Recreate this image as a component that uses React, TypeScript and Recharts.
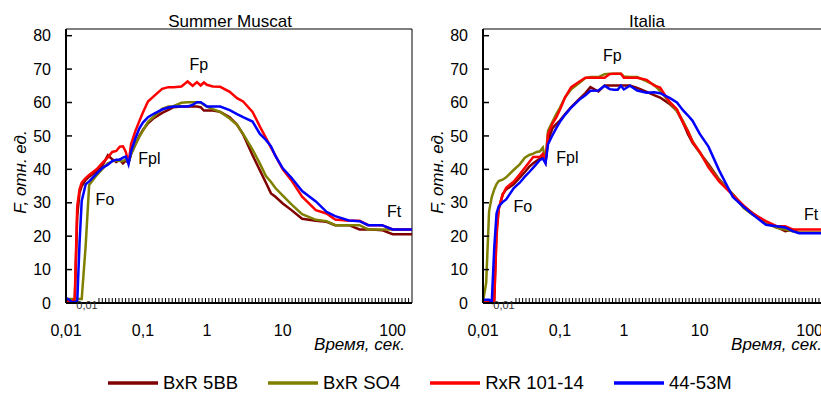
import React from 'react';
import { LineChart, Line, XAxis, YAxis, ReferenceLine, ReferenceDot, Legend } from 'recharts';

// Sample times (sec, as labelled on the axis)
const TIMES = [0.01, 0.011, 0.012, 0.013, 0.014, 0.015, 0.016, 0.018, 0.02, 0.025, 0.03, 0.035, 0.04, 0.045, 0.05, 0.055, 0.06, 0.065, 0.07, 0.08, 0.09, 0.1, 0.12, 0.15, 0.2, 0.25, 0.3, 0.4, 0.5, 0.6, 0.7, 0.8, 0.9, 1, 1.2, 1.5, 2, 2.5, 3, 4, 5, 6, 7, 8, 10, 12, 15, 20, 25, 30, 40, 50, 60, 70, 80, 100, 120, 150];

// Summer Muscat
const MUSCAT_5BB = [0.5, 0.5, 0.5, 0.6, 26, 33, 35, 36.8, 37.8, 39.5, 41.3, 44.2, 43, 42.2, 42.9, 41.8, 42.7, 42, 44.5, 47.5, 50, 51.8, 53.8, 55.4, 56.9, 57.8, 58.6, 58.8, 58.8, 58.8, 58.8, 58.6, 57.6, 57.6, 57.6, 57.2, 55.6, 53.3, 50.5, 44.2, 39.7, 36, 32.8, 31.8, 29.8, 27.8, 25.2, 24.6, 24.3, 23.3, 23.3, 22, 22, 21.9, 21.8, 20.6, 20.6, 20.6];
const MUSCAT_SO4 = [1.2, 1.2, 1.2, 1.2, 1.2, 1.2, 1.2, 17, 35.3, 38.2, 40.2, 41.8, 42.4, 42.7, 42.5, 42.5, 43, 42, 44.5, 47.5, 49.8, 51.6, 54.2, 55.9, 58.1, 58.8, 58.9, 59.9, 60.1, 60.1, 60.1, 60, 59.3, 58.8, 58, 57.2, 55.2, 53.3, 50.6, 45.9, 41.7, 38, 36.2, 34.4, 32.1, 29.5, 26.6, 24.9, 24.5, 23.3, 23.3, 23.3, 22, 22, 22, 22, 22, 22];
const MUSCAT_101 = [0.4, 0.4, 0.4, 1.5, 29, 34, 36, 37.4, 38.3, 40, 42, 43.6, 45.2, 45.5, 46.8, 46.9, 45.2, 41.7, 47.5, 51.5, 54.5, 57, 60.3, 62, 64.1, 64.6, 64.6, 64.8, 66.3, 65, 66.1, 65.1, 66, 65.3, 64.8, 64.7, 63.2, 61.3, 60.3, 57.2, 52.8, 49.4, 46.5, 44.1, 40, 36.7, 31.8, 27.8, 26.8, 25, 24.6, 24.6, 23.3, 23.3, 23.3, 22, 22, 22];
const MUSCAT_4453 = [1.5, 1, 0.2, 0.3, 0.4, 18, 30.5, 35.5, 36.4, 38.7, 40.5, 41.4, 42.5, 42.9, 42.9, 43.5, 43.8, 41.5, 45.3, 49.3, 52.3, 54, 55.6, 56.7, 57.9, 58.5, 58.8, 58.8, 58.8, 59.3, 60.1, 60.1, 59.5, 58.8, 58.8, 58.8, 57.7, 56.5, 55.6, 54.3, 50.6, 48.8, 46.9, 44, 40.3, 37.5, 33.5, 30.4, 27.3, 26, 24.7, 24.5, 23.3, 23.3, 23.3, 22, 22, 22];

// Italia
const ITALIA_5BB = [0.5, 0.5, 0.5, 0.5, 1, 22, 28, 32.5, 34, 35.5, 37.5, 39.2, 40.8, 41.8, 42.6, 43.2, 43.6, 42, 48.5, 52.3, 53.6, 54.6, 56.5, 58.6, 61, 62.8, 64.6, 63.3, 65.1, 65.1, 65.1, 65.1, 65.1, 65.1, 65.1, 64.4, 63.2, 62.2, 61.5, 59.6, 57.5, 54.1, 50.5, 48, 45, 41.5, 37, 32.5, 29, 27, 24, 22.8, 21.5, 22, 21, 21, 21, 21];
const ITALIA_SO4 = [0.5, 6, 27.5, 31.7, 34, 35.6, 36.5, 36.9, 37.6, 39.8, 41.5, 43.5, 44.3, 44.7, 45.2, 45.4, 46.5, 42.6, 51.5, 54.2, 56.6, 58.4, 61.5, 64, 65.8, 67.3, 67.6, 67.6, 68.5, 68.6, 68.6, 68.6, 68.6, 67.8, 67.6, 67.6, 66.3, 65.3, 63.5, 60, 57.5, 54.5, 51.5, 48.5, 45, 41, 36.8, 32.5, 28.5, 26.5, 24, 22.5, 22, 21.5, 21, 21, 21, 21];
const ITALIA_101 = [0.4, 0.4, 0.4, 0.4, 0.5, 20, 28.3, 32.3, 34.5, 36.3, 38.5, 40.5, 42.2, 43.7, 43.7, 43.7, 44.6, 42.2, 50.5, 53.7, 55.6, 57.8, 61.5, 64.6, 66.2, 67.4, 67.4, 67.4, 67.4, 68.5, 68.6, 68.6, 68.6, 67.4, 67.4, 67.4, 66.8, 65.1, 64.5, 60.2, 58, 54, 51.3, 48.3, 45.2, 40.6, 36.4, 32.3, 29.2, 26.8, 24.5, 23, 23, 22, 22, 22, 22, 22];
const ITALIA_4453 = [1, 1, 1, 0.3, 16.5, 26.8, 28.9, 30.2, 31, 34.3, 36, 37.8, 39.2, 40.5, 41.7, 42.8, 43.2, 41.8, 47.5, 50.2, 52.4, 54.2, 56.3, 58.5, 60.8, 62.2, 63.5, 63.6, 65, 64, 63.8, 63.8, 65, 63.9, 65, 63.6, 62.9, 63.1, 62.8, 61.4, 60, 57.7, 56.1, 54.6, 50.6, 46.8, 39.7, 31.7, 28.8, 26.6, 23.4, 23, 22.6, 21.5, 20.9, 20.9, 20.9, 20.9];

const SERIES = [
  { key: 'bb5', name: 'BxR 5BB', color: '#800000' },
  { key: 'so4', name: 'BxR SO4', color: '#808000' },
  { key: 'r101', name: 'RxR 101-14', color: '#FF0000' },
  { key: 'm4453', name: '44-53M', color: '#0000FF' },
];

// Axis labels (the original uses a category axis, so decades are unevenly spaced)
const DECADE_VALUES = [0.01, 0.1, 1, 10, 100];
const DECADE_TEXT = ['0,01', '0,1', '1', '10', '100'];
const Y_TICKS = [0, 10, 20, 30, 40, 50, 60, 70, 80];

const MUSCAT_MARKS = [
  { text: 'Fo', t: 0.0321, v: 31.2 },
  { text: 'Fpl', t: 0.126, v: 43.3 },
  { text: 'Fp', t: 0.75, v: 71.6 },
  { text: 'Ft', t: 103, v: 27.6 },
];
const ITALIA_MARKS = [
  { text: 'Fo', t: 0.033, v: 29.1 },
  { text: 'Fpl', t: 0.131, v: 43.6 },
  { text: 'Fp', t: 0.66, v: 74.3 },
  { text: 'Ft', t: 103, v: 26.7 },
];

// layout constants
const DECADE_WIDTH = [77, 64, 76, 110];
const T_END = 150;
const Y_MAX = 82;
const MINOR_START = 33;
const MINOR_STEP = 3.333;
const FONT = '"Liberation Sans", Arial, Helvetica, sans-serif';

function pos(t: number): number {
  let lg = Math.log10(t / DECADE_VALUES[0]);
  let u = 0;
  for (let i = 0; i < DECADE_WIDTH.length; i++) {
    if (lg <= 1 || i === DECADE_WIDTH.length - 1) return u + DECADE_WIDTH[i] * lg;
    u += DECADE_WIDTH[i];
    lg -= 1;
  }
  return u;
}

const U_MAX = pos(T_END);
const LABEL_U = DECADE_VALUES.map(pos);
const MINOR_U: number[] = [];
for (let u = MINOR_START; u <= U_MAX - 0.5; u += MINOR_STEP) MINOR_U.push(u);
const X_TICKS = [...LABEL_U, ...MINOR_U];

function buildRows(a: number[], b: number[], c: number[], d: number[]) {
  return TIMES.map((t, i) => ({ u: pos(t), bb5: a[i], so4: b[i], r101: c[i], m4453: d[i] }));
}

const renderXTick = (p: any) => {
  const { x, y, payload } = p;
  const idx = LABEL_U.findIndex((v) => Math.abs(v - payload.value) < 1e-6);
  if (idx >= 0) {
    return (
      <g>
        <text x={x} y={y + 33} textAnchor="middle" fontSize={16} fill="#000" fontFamily={FONT}>
          {DECADE_TEXT[idx]}
        </text>
        {idx === 0 && (
          <text x={x + 21} y={y + 6} textAnchor="middle" fontSize={11} fill="#333" fontFamily={FONT}>
            {DECADE_TEXT[0]}
          </text>
        )}
      </g>
    );
  }
  return <line x1={x} x2={x} y1={y} y2={y - 5} stroke="#000" strokeWidth={1} />;
};

const renderLegend = () => (
  <div style={{ display: 'flex', alignItems: 'center', fontFamily: FONT }}>
    {SERIES.map((s) => (
      <div key={s.key} style={{ display: 'flex', alignItems: 'center', marginRight: 30 }}>
        <svg width={50} height={6}>
          <line x1={0} x2={50} y1={3} y2={3} stroke={s.color} strokeWidth={3.5} />
        </svg>
        <span style={{ marginLeft: 5, fontSize: 18.5, color: '#000', lineHeight: '22px' }}>{s.name}</span>
      </div>
    ))}
  </div>
);

type PanelProps = {
  title: string;
  rows: any[];
  marks: { text: string; t: number; v: number }[];
  borderColor: string;
  borderWidth: number;
  withLegend?: boolean;
};

function Panel({ title, rows, marks, borderColor, borderWidth, withLegend }: PanelProps) {
  return (
    <LineChart width={420} height={394} data={rows} margin={{ top: 29, right: 8, bottom: 41, left: 0 }}>
      <XAxis
        dataKey="u"
        type="number"
        domain={[0, U_MAX]}
        ticks={X_TICKS}
        interval={0}
        tickLine={false}
        tickSize={0}
        tickMargin={0}
        height={50}
        axisLine={{ stroke: '#000', strokeWidth: 2 }}
        tick={renderXTick}
        label={() => (
          <text x={405} y={350} textAnchor="end" fontSize={17} fontStyle="italic" fill="#000" fontFamily={FONT}>
            Время, сек.
          </text>
        )}
      />
      <YAxis
        type="number"
        domain={[0, Y_MAX]}
        ticks={Y_TICKS}
        interval={0}
        width={66}
        axisLine={{ stroke: '#000', strokeWidth: 2 }}
        tickLine={{ stroke: '#000', strokeWidth: 1.5 }}
        tickSize={-6}
        tickMargin={21}
        tick={{ fill: '#000', fontSize: 16, fontFamily: FONT }}
        label={() => (
          <text
            x={20}
            y={172}
            transform="rotate(-90, 20, 172)"
            textAnchor="middle"
            dominantBaseline="central"
            fontSize={17}
            fontStyle="italic"
            fill="#000"
            fontFamily={FONT}
          >
            F, отн. ед.
          </text>
        )}
      />
      <ReferenceLine
        y={Y_MAX}
        stroke={borderColor}
        strokeWidth={borderWidth}
        label={() => (
          <text x={230} y={27} textAnchor="middle" fontSize={17} fill="#000" fontFamily={FONT}>
            {title}
          </text>
        )}
      />
      <ReferenceLine x={U_MAX} stroke="#000" strokeWidth={1} />
      {SERIES.map((s) => (
        <Line
          key={s.key}
          type="linear"
          dataKey={s.key}
          name={s.name}
          stroke={s.color}
          strokeWidth={2.5}
          dot={false}
          activeDot={false}
          isAnimationActive={false}
        />
      ))}
      {marks.map((m) => (
        <ReferenceDot
          key={m.text}
          x={pos(m.t)}
          y={m.v}
          r={0}
          fill="none"
          stroke="none"
          shape={(p: any) => (
            <text x={p.cx} y={p.cy + 6} textAnchor="middle" fontSize={16} fill="#000" fontFamily={FONT}>
              {m.text}
            </text>
          )}
        />
      ))}
      {withLegend && (
        <Legend
          layout="vertical"
          align="center"
          verticalAlign="middle"
          content={renderLegend}
          wrapperStyle={{ left: 108, top: 372, width: 713, position: 'absolute' }}
        />
      )}
    </LineChart>
  );
}

export default function App() {
  const muscatRows = buildRows(MUSCAT_5BB, MUSCAT_SO4, MUSCAT_101, MUSCAT_4453);
  const italiaRows = buildRows(ITALIA_5BB, ITALIA_SO4, ITALIA_101, ITALIA_4453);
  return (
    <div
      style={{
        position: 'absolute',
        left: 0,
        top: 0,
        width: 821,
        height: 394,
        overflow: 'hidden',
        background: '#fff',
        fontFamily: FONT,
      }}
    >
      <div style={{ position: 'absolute', left: 417, top: 0 }}>
        <Panel title="Italia" rows={italiaRows} marks={ITALIA_MARKS} borderColor="#7f7f7f" borderWidth={2} />
      </div>
      <div style={{ position: 'absolute', left: 0, top: 0 }}>
        <Panel title="Summer Muscat" rows={muscatRows} marks={MUSCAT_MARKS} borderColor="#000" borderWidth={1} withLegend />
      </div>
    </div>
  );
}
